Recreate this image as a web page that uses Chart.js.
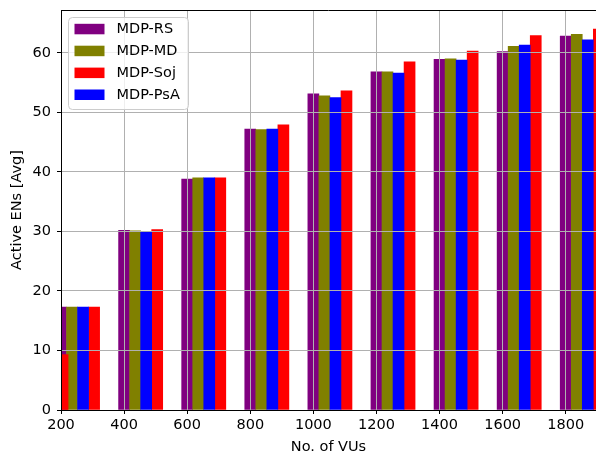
<!DOCTYPE html>
<html>
<head>
<meta charset="utf-8">
<script src="https://cdn.jsdelivr.net/npm/chart.js@4/dist/chart.umd.min.js"></script>
<style>
  html, body { margin: 0; padding: 0; background: #fff; }
  #wrap { width: 596px; height: 457px; }
</style>
</head>
<body>
<div id="wrap"><canvas id="chart"></canvas></div>
<script>
// values
const groups  = [100, 200, 400, 600, 800, 1000, 1200, 1400, 1600, 1800];
const rsVals  = [9.3, 17.3, 30.2, 38.8, 47.2, 53.1, 56.8, 58.9, 60.2, 62.8];
const mdVals  = [9.3, 17.3, 30.1, 39.0, 47.1, 52.8, 56.8, 59.0, 61.1, 63.1];
const sojVals = [9.3, 17.3, 30.3, 39.0, 47.9, 53.6, 58.5, 60.3, 62.9, 64.0];
const psaVals = [9.3, 17.3, 30.0, 39.0, 47.2, 52.5, 56.6, 58.8, 61.3, 62.2];
const xTicks  = [200, 400, 600, 800, 1000, 1200, 1400, 1600, 1800];
const yTicks  = [0, 10, 20, 30, 40, 50, 60];

const barStep = 35; // bar width in x units, bars placed side by side

function series(label, vals, slot, color, order) {
  return {
    label,
    data: groups.map((g, i) => ({ x: g + slot * barStep, y: vals[i] })),
    backgroundColor: color,
    borderWidth: 0,
    barThickness: 11,
    grouped: false,
    clip: 0,
    order // later series are painted on top, like matplotlib
  };
}

Chart.defaults.font.family = '"DejaVu Sans", sans-serif';
Chart.defaults.font.size = 14.5;
Chart.defaults.color = '#000';

const insideLegend = {
  id: 'insideLegend',
  afterDraw(chart) {
    const ctx = chart.ctx;
    const area = chart.chartArea;
    ctx.save();
    // top spine
    ctx.strokeStyle = '#000';
    ctx.lineWidth = 1;
    ctx.beginPath();
    ctx.moveTo(area.left, Math.round(area.top) + 0.5);
    ctx.lineTo(area.right, Math.round(area.top) + 0.5);
    ctx.stroke();

    const x0 = area.left + 7, y0 = area.top + 7;
    ctx.beginPath();
    ctx.roundRect(Math.round(x0) + 0.5, Math.round(y0) + 0.5, 120, 92, 4);
    ctx.fillStyle = 'rgba(255,255,255,0.8)';
    ctx.fill();
    ctx.strokeStyle = '#cccccc';
    ctx.stroke();

    ctx.font = '14.5px "DejaVu Sans"';
    ctx.textBaseline = 'middle';
    chart.data.datasets.forEach((ds, i) => {
      const cy = y0 + 12 + i * 21.9;
      ctx.fillStyle = ds.backgroundColor;
      ctx.fillRect(x0 + 6.5, cy - 5.2, 30, 10.5);
      ctx.fillStyle = '#000';
      ctx.fillText(ds.label, x0 + 48.5, cy + 0.5);
    });
    ctx.restore();
  }
};

new Chart(document.getElementById('chart'), {
  type: 'bar',
  data: {
    datasets: [
      series('MDP-RS', rsVals, 0, '#800080', 3),
      series('MDP-MD', mdVals, 1, '#808000', 2),
      series('MDP-Soj', sojVals, 3, '#ff0000', 1),
      series('MDP-PsA', psaVals, 2, '#0000ff', 0)
    ]
  },
  options: {
    responsive: true,
    maintainAspectRatio: false,
    animation: false,
    layout: { padding: { top: 10, right: 0, left: 0, bottom: 0 } },
    plugins: { legend: { display: false }, tooltip: { enabled: false } },
    scales: {
      x: {
        type: 'linear',
        min: 200,
        max: 1896,
        offset: false,
        afterBuildTicks: scale => { scale.ticks = xTicks.map(v => ({ value: v })); },
        afterFit: scale => { scale.height = 47; },
        grid: { color: '#b0b0b0', tickColor: '#000', tickLength: 4, offset: false, z: 1 },
        border: { color: '#000', width: 1, z: 2 },
        ticks: { autoSkip: false, maxRotation: 0, padding: 3, callback: v => String(v) },
        title: { display: true, text: 'No. of VUs', padding: { top: 1, bottom: 1 } }
      },
      y: {
        min: 0,
        max: 67.2,
        afterBuildTicks: scale => { scale.ticks = yTicks.map(v => ({ value: v })); },
        afterFit: scale => { scale.width = 61; scale.paddingTop = 0; scale.paddingBottom = 0; },
        grid: { color: '#b0b0b0', tickColor: '#000', tickLength: 4, z: 1 },
        border: { color: '#000', width: 1, z: 2 },
        ticks: { padding: 6 },
        title: { display: true, text: 'Active ENs [Avg]', padding: { top: 9, bottom: 0 } }
      }
    }
  },
  plugins: [insideLegend]
});
</script>
</body>
</html>
